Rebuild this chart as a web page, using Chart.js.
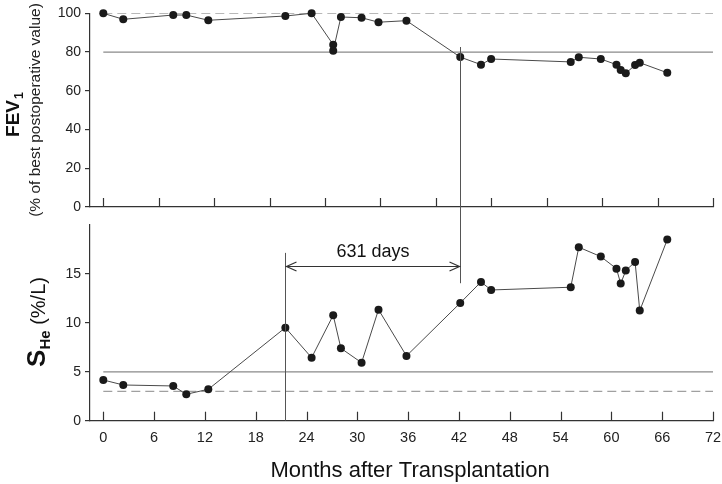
<!DOCTYPE html>
<html>
<head>
<meta charset="utf-8">
<script src="https://cdn.jsdelivr.net/npm/chart.js@4.4.0/dist/chart.umd.min.js"></script>
<style>
  html, body { margin: 0; padding: 0; background: #fff; }
  #wrap { position: relative; width: 722px; height: 484px; }
  #fevBox { position: absolute; left: 0; top: 0; width: 722px; height: 220px; }
  #sheBox { position: absolute; left: 0; top: 220px; width: 722px; height: 264px; }
</style>
</head>
<body>
<div id="wrap">
  <div id="fevBox"><canvas id="fevChart"></canvas></div>
  <div id="sheBox"><canvas id="sheChart"></canvas></div>
</div>
<script>
// data
const fevMonths = [0, 2.36, 8.26, 9.8, 12.4, 21.5, 24.6, 27.15, 27.15, 28.06, 30.5, 32.5, 35.8,
  42.15, 44.6, 45.8, 55.2, 56.15, 58.75, 60.6, 61.1, 61.7, 62.8, 63.35, 66.6];
const fevValues = [100, 96.9, 99.1, 99.1, 96.4, 98.6, 100, 83.8, 80.7, 98.1, 97.7, 95.4, 96.2,
  77.4, 73.5, 76.4, 74.9, 77.3, 76.4, 73.5, 70.7, 69.0, 73.3, 74.5, 69.3];

const sheMonths = [0, 2.36, 8.26, 9.8, 12.4, 21.5, 24.6, 27.15, 28.06, 30.5, 32.5, 35.8,
  42.15, 44.6, 45.8, 55.2, 56.15, 58.75, 60.6, 61.1, 61.7, 62.8, 63.35, 66.6];
const sheValues = [4.16, 3.65, 3.55, 2.70, 3.21, 9.51, 6.44, 10.78, 7.40, 5.93, 11.35, 6.62,
  12.03, 14.18, 13.36, 13.64, 17.73, 16.77, 15.54, 14.01, 15.34, 16.23, 11.25, 18.51];

const monthTicks = [0, 6, 12, 18, 24, 30, 36, 42, 48, 54, 60, 66, 72];
const fevMonthTicks = [0, 6.55, 13.09, 19.64, 26.18, 32.73, 39.27, 45.82, 52.36, 58.91, 65.45, 72];
const fevTicks = [0, 20, 40, 60, 80, 100];
const sheTicks = [0, 5, 10, 15];

const fevBest = 100;      // dashed
const fevLimit = 80;      // solid
const sheLimit = 5;       // solid
const sheNormal = 3;      // dashed

const intervalStart = 21.4;
const intervalEnd = 42.15;
const intervalLabel = '631 days';

const FONT = '"Liberation Sans", Arial, sans-serif';
Chart.defaults.font.family = FONT;
Chart.defaults.color = '#222';

function points(xs, ys) {
  return xs.map((x, i) => ({ x: x, y: ys[i] }));
}
function refLine(v, dashed) {
  return {
    data: [{ x: monthTicks[0], y: v }, { x: monthTicks[monthTicks.length - 1], y: v }],
    borderColor: dashed ? '#a0a0a0' : '#8a8a8a',
    borderWidth: 1.2,
    borderDash: dashed ? [9, 5] : [],
    pointRadius: 0
  };
}
function seriesSet(xs, ys) {
  return {
    data: points(xs, ys),
    borderColor: '#4a4a4a',
    borderWidth: 1,
    pointRadius: 4,
    pointBackgroundColor: '#1a1a1a',
    pointBorderWidth: 0,
    tension: 0,
    clip: false
  };
}

function drawInnerTicks(chart) {
  const ctx = chart.ctx, x = chart.scales.x, a = chart.chartArea;
  ctx.save();
  ctx.strokeStyle = '#333';
  ctx.lineWidth = 1.2;
  x.ticks.forEach(t => {
    const px = Math.round(x.getPixelForValue(t.value)) + 0.5;
    ctx.beginPath();
    ctx.moveTo(px, a.bottom);
    ctx.lineTo(px, a.bottom - 9);
    ctx.stroke();
  });
  ctx.restore();
}

function vline(ctx, px, y1, y2) {
  ctx.beginPath();
  ctx.moveTo(px, y1);
  ctx.lineTo(px, y2);
  ctx.stroke();
}

const fevDecor = {
  id: 'fevDecor',
  afterDatasetsDraw(chart) {
    const ctx = chart.ctx, x = chart.scales.x, y = chart.scales.y;
    drawInnerTicks(chart);
    ctx.save();
    ctx.strokeStyle = '#555';
    ctx.lineWidth = 1;
    vline(ctx, Math.round(x.getPixelForValue(intervalEnd)) + 0.5, y.getPixelForValue(82.6), chart.height);

    // y title
    ctx.fillStyle = '#111';
    ctx.translate(19, 115);
    ctx.rotate(-Math.PI / 2);
    ctx.font = 'bold 19px ' + FONT;
    const w1 = ctx.measureText('FEV').width;
    ctx.font = 'bold 12.5px ' + FONT;
    const w2 = ctx.measureText('1').width;
    const start = -(w1 + w2) / 2;
    ctx.textBaseline = 'alphabetic';
    ctx.textAlign = 'left';
    ctx.font = 'bold 19px ' + FONT;
    ctx.fillText('FEV', start, 0);
    ctx.font = 'bold 12.5px ' + FONT;
    ctx.fillText('1', start + w1 + 1, 4);
    ctx.restore();

    ctx.save();
    ctx.fillStyle = '#222';
    ctx.translate(40, 110);
    ctx.rotate(-Math.PI / 2);
    ctx.font = '15.5px ' + FONT;
    ctx.textAlign = 'center';
    ctx.textBaseline = 'alphabetic';
    ctx.fillText('(% of best postoperative value)', 0, 0);
    ctx.restore();
  }
};

const sheDecor = {
  id: 'sheDecor',
  afterDatasetsDraw(chart) {
    const ctx = chart.ctx, x = chart.scales.x, y = chart.scales.y;
    drawInnerTicks(chart);
    const xs = Math.round(x.getPixelForValue(intervalStart)) + 0.5;
    const xe = Math.round(x.getPixelForValue(intervalEnd)) + 0.5;
    ctx.save();
    ctx.strokeStyle = '#555';
    ctx.lineWidth = 1;
    vline(ctx, xe, 0, y.getPixelForValue(14.05));
    vline(ctx, xs, y.getPixelForValue(17.15), y.getPixelForValue(0));

    // double arrow
    const ay = Math.round(y.getPixelForValue(15.82)) + 0.5;
    ctx.strokeStyle = '#333';
    ctx.lineWidth = 1.2;
    ctx.beginPath();
    ctx.moveTo(xs, ay); ctx.lineTo(xe, ay);
    ctx.moveTo(xs + 11, ay - 4.5); ctx.lineTo(xs + 1, ay); ctx.lineTo(xs + 11, ay + 4.5);
    ctx.moveTo(xe - 11, ay - 4.5); ctx.lineTo(xe - 1, ay); ctx.lineTo(xe - 11, ay + 4.5);
    ctx.stroke();
    ctx.fillStyle = '#111';
    ctx.font = '18px ' + FONT;
    ctx.textAlign = 'center';
    ctx.textBaseline = 'alphabetic';
    ctx.fillText(intervalLabel, (xs + xe) / 2, ay - 10);

    // x title
    ctx.font = '22px ' + FONT;
    ctx.fillText('Months after Transplantation', 410, 257);
    ctx.restore();

    // y title
    ctx.save();
    ctx.fillStyle = '#111';
    ctx.translate(45, 102);
    ctx.rotate(-Math.PI / 2);
    ctx.textBaseline = 'alphabetic';
    ctx.textAlign = 'left';
    ctx.font = 'bold 26px ' + FONT;
    const wS = ctx.measureText('S').width;
    ctx.font = 'bold 15px ' + FONT;
    const wH = ctx.measureText('He').width;
    ctx.font = '20px ' + FONT;
    const wU = ctx.measureText(' (%/L)').width;
    let pos = -(wS + wH + wU) / 2;
    ctx.font = 'bold 26px ' + FONT;
    ctx.fillText('S', pos, 0);
    pos += wS;
    ctx.font = 'bold 15px ' + FONT;
    ctx.fillText('He', pos, 5);
    pos += wH;
    ctx.font = '20px ' + FONT;
    ctx.fillText(' (%/L)', pos, 0);
    ctx.restore();
  }
};

function noPad(s) {
  s.paddingLeft = 0; s.paddingRight = 0; s.paddingTop = 0; s.paddingBottom = 0;
}

function baseOptions(o) {
  return {
    responsive: true,
    maintainAspectRatio: false,
    animation: false,
    layout: { padding: { top: o.padTop, right: 9, left: 0, bottom: 0 } },
    plugins: { legend: { display: false }, tooltip: { enabled: false } },
    scales: {
      x: {
        type: 'linear',
        min: -1.57,
        max: 72,
        afterBuildTicks: s => { s.ticks = o.xTicks.map(v => ({ value: v })); },
        afterFit: s => { s.height = o.xHeight; noPad(s); },
        grid: { display: false, drawTicks: false },
        border: { display: true, color: '#333', width: 1.2 },
        ticks: {
          display: o.xLabels,
          padding: 9,
          font: { size: 14.5 },
          color: '#222',
          maxRotation: 0,
          autoSkip: false
        }
      },
      y: {
        min: o.yMin,
        max: o.yMax,
        afterBuildTicks: s => { s.ticks = o.yTicks.map(v => ({ value: v })); },
        afterFit: s => { s.width = 90; noPad(s); },
        grid: { display: true, drawOnChartArea: false, drawTicks: true, tickLength: 5, color: '#333', lineWidth: 1.2 },
        border: { display: true, color: '#333', width: 1.2 },
        ticks: { padding: 4, font: { size: 14 }, color: '#222' }
      }
    }
  };
}

new Chart(document.getElementById('fevChart'), {
  type: 'line',
  data: {
    datasets: [
      seriesSet(fevMonths, fevValues),
      refLine(fevBest, true),
      refLine(fevLimit, false)
    ]
  },
  options: baseOptions({ padTop: 13.3, xHeight: 13, xTicks: fevMonthTicks, xLabels: false,
    yMin: 0, yMax: 100, yTicks: fevTicks }),
  plugins: [fevDecor]
});

new Chart(document.getElementById('sheChart'), {
  type: 'line',
  data: {
    datasets: [
      seriesSet(sheMonths, sheValues),
      refLine(sheLimit, false),
      refLine(sheNormal, true)
    ]
  },
  options: baseOptions({ padTop: 5, xHeight: 63.3, xTicks: monthTicks, xLabels: true,
    yMin: 0, yMax: 20, yTicks: sheTicks }),
  plugins: [sheDecor]
});
</script>
</body>
</html>
